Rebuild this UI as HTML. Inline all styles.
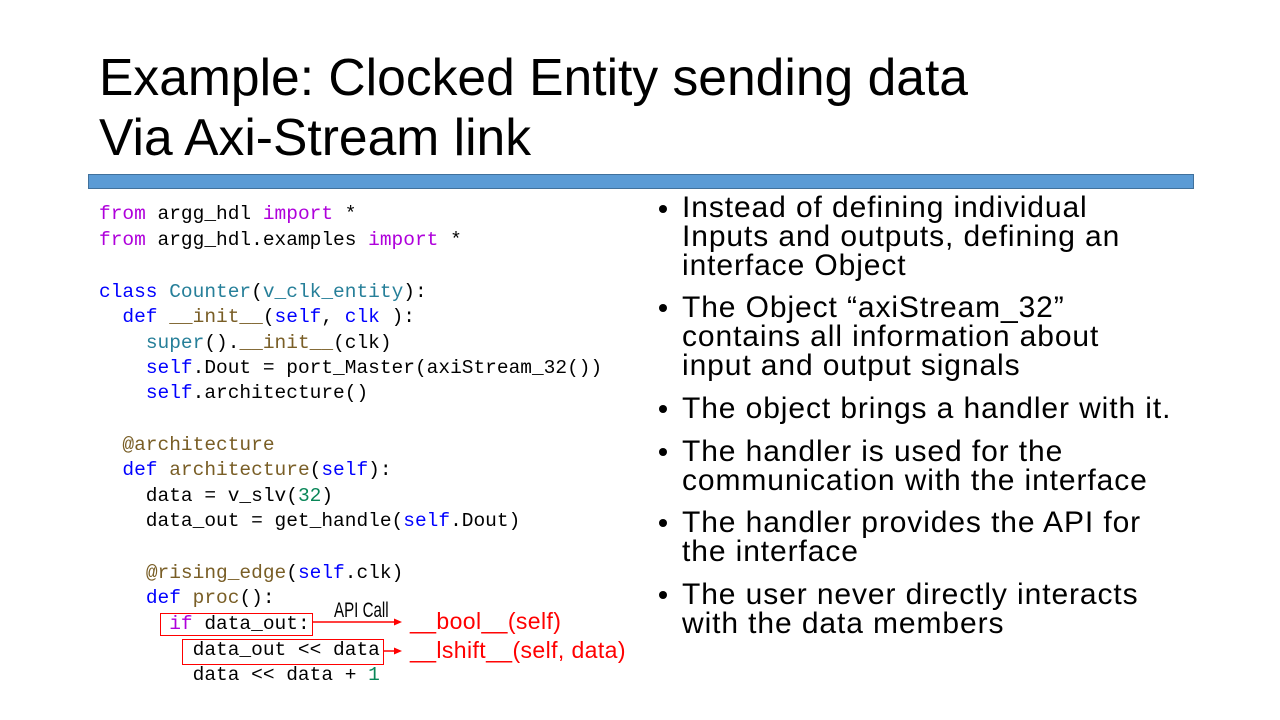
<!DOCTYPE html>
<html><head><meta charset="utf-8"><style>
body{margin:0;width:1280px;height:720px;background:#fff;position:relative;overflow:hidden;font-family:"Liberation Sans",sans-serif}
.t{position:absolute;left:99px;font-size:51.6px;color:#000;white-space:nowrap;line-height:1}
.bar{position:absolute;left:88px;top:174px;width:1104px;height:13px;background:#5b9bd5;border:1px solid #41719c}
.c{position:absolute;left:99px;font-family:"Liberation Mono",monospace;font-size:19.5px;white-space:pre;line-height:1;color:#000}
.k{color:#af00db}.b{color:#0000ff}.g{color:#267f99}.d{color:#795e26}.n{color:#098658}
.l{position:absolute;left:682px;font-size:30px;letter-spacing:0.9px;white-space:nowrap;line-height:1;color:#000}
.dot{position:absolute;left:659px;width:8px;height:8px;border-radius:50%;background:#000}
.r{position:absolute;font-size:23px;letter-spacing:0.4px;color:#ff0000;white-space:nowrap;line-height:1}
.box{position:absolute;border:1.5px solid #ff0000}
</style></head><body>
<div class="t" style="top:52px">Example: Clocked Entity sending data</div>
<div class="t" style="top:112px">Via Axi-Stream link</div>
<div class="bar"></div>

<div class="c" style="top:205px"><span class="k">from</span> argg_hdl <span class="k">import</span> *</div>
<div class="c" style="top:231px"><span class="k">from</span> argg_hdl.examples <span class="k">import</span> *</div>
<div class="c" style="top:283px"><span class="b">class</span> <span class="g">Counter</span>(<span class="g">v_clk_entity</span>):</div>
<div class="c" style="top:308px">  <span class="b">def</span> <span class="d">__init__</span>(<span class="b">self</span>, <span class="b">clk</span> ):</div>
<div class="c" style="top:334px">    <span class="g">super</span>().<span class="d">__init__</span>(clk)</div>
<div class="c" style="top:359px">    <span class="b">self</span>.Dout = port_Master(axiStream_32())</div>
<div class="c" style="top:384px">    <span class="b">self</span>.architecture()</div>
<div class="c" style="top:436px">  <span class="d">@architecture</span></div>
<div class="c" style="top:461px">  <span class="b">def</span> <span class="d">architecture</span>(<span class="b">self</span>):</div>
<div class="c" style="top:487px">    data = v_slv(<span class="n">32</span>)</div>
<div class="c" style="top:512px">    data_out = get_handle(<span class="b">self</span>.Dout)</div>
<div class="c" style="top:564px">    <span class="d">@rising_edge</span>(<span class="b">self</span>.clk)</div>
<div class="c" style="top:589px">    <span class="b">def</span> <span class="d">proc</span>():</div>
<div class="c" style="top:615px">      <span class="k">if</span> data_out:</div>
<div class="c" style="top:641px">        data_out &lt;&lt; data</div>
<div class="c" style="top:666px">        data &lt;&lt; data + <span class="n">1</span></div>

<div class="box" style="left:160px;top:613px;width:151px;height:21px"></div>
<div class="box" style="left:182px;top:639px;width:200px;height:24px"></div>
<div style="position:absolute;left:334px;top:600px;font-size:21px;white-space:nowrap;line-height:1;transform:scaleX(0.72);transform-origin:0 0">API Call</div>
<svg style="position:absolute;left:0;top:0" width="1280" height="720">
<line x1="313" y1="622" x2="396" y2="622" stroke="#f00" stroke-width="1.5"/>
<polygon points="402,622 394,618.5 394,625.5" fill="#f00"/>
<line x1="384" y1="651" x2="396" y2="651" stroke="#f00" stroke-width="1.5"/>
<polygon points="402,651 394,647.5 394,654.5" fill="#f00"/>
</svg>
<div class="r" style="left:410px;top:610px">__bool__(self)</div>
<div class="r" style="left:410px;top:639px">__lshift__(self, data)</div>

<div class="dot" style="top:205px"></div>
<div class="l" style="top:193px">Instead of defining individual</div>
<div class="l" style="top:222px">Inputs and outputs, defining an</div>
<div class="l" style="top:251px">interface Object</div>
<div class="dot" style="top:304px"></div>
<div class="l" style="top:293px">The Object “axiStream_32”</div>
<div class="l" style="top:322px">contains all information about</div>
<div class="l" style="top:351px">input and output signals</div>
<div class="dot" style="top:405px"></div>
<div class="l" style="top:394px">The object brings a handler with it.</div>
<div class="dot" style="top:448px"></div>
<div class="l" style="top:437px">The handler is used for the</div>
<div class="l" style="top:466px">communication with the interface</div>
<div class="dot" style="top:519px"></div>
<div class="l" style="top:508px">The handler provides the API for</div>
<div class="l" style="top:537px">the interface</div>
<div class="dot" style="top:591px"></div>
<div class="l" style="top:580px">The user never directly interacts</div>
<div class="l" style="top:609px">with the data members</div>
</body></html>
